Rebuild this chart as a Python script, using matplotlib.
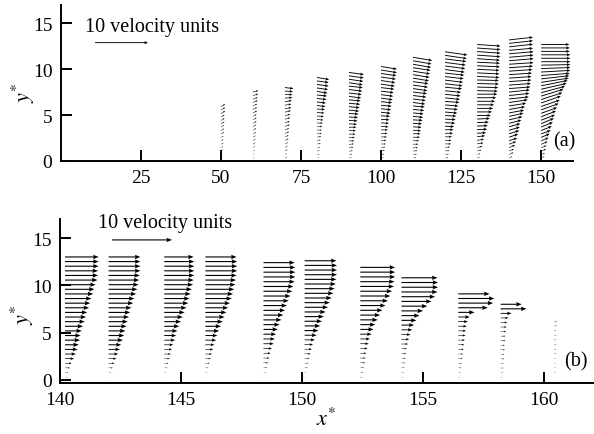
import numpy as np
import matplotlib
matplotlib.use("Agg")
import matplotlib.pyplot as plt

plt.rcParams['font.family'] = ['Liberation Serif', 'DejaVu Serif']
plt.rcParams['mathtext.fontset'] = 'stix'

# ---------------- panel (a) data ----------------
a_x = [50, 60, 70, 80, 90, 100, 110, 120, 130, 140, 150]
a_top = [5.9, 7.5, 8.0, 9.1, 9.65, 10.3, 11.3, 11.9, 12.7, 13.2, 12.7]
a_u = [
    [0.3,0.3,0.4,0.4,0.5,0.5,0.5,0.6,0.6,0.6,0.7,0.7,0.7,0.8,0.8,0.8],
    [0.3,0.3,0.4,0.4,0.5,0.5,0.5,0.6,0.6,0.6,0.7,0.7,0.7,0.8,0.8,0.8,0.9,0.9,1.0,1.0],
    [0.4,0.4,0.5,0.5,0.6,0.7,0.7,0.8,0.8,0.9,0.9,1.0,1.0,1.1,1.2,1.2,1.3,1.4,1.4,1.5,1.6],
    [0.4,0.5,0.5,0.6,0.7,0.7,0.8,0.9,0.9,1.0,1.1,1.2,1.3,1.4,1.5,1.6,1.7,1.8,1.9,2.0,2.1,2.2,2.2,2.3],
    [0.5,0.6,0.7,0.8,0.9,1.0,1.1,1.2,1.3,1.4,1.5,1.6,1.7,1.8,1.9,2.0,2.1,2.2,2.3,2.4,2.5,2.6,2.6,2.7,2.8,2.8],
    [0.5,0.6,0.7,0.8,0.9,1.0,1.1,1.2,1.3,1.4,1.5,1.6,1.7,1.8,1.9,2.0,2.1,2.2,2.3,2.4,2.5,2.6,2.7,2.8,2.9,3.0,3.0],
    [0.6,0.7,0.8,0.9,1.0,1.1,1.3,1.4,1.5,1.6,1.7,1.8,1.9,2.0,2.1,2.2,2.3,2.4,2.5,2.6,2.7,2.8,2.9,3.0,3.1,3.2,3.3,3.4,3.5,3.6],
    [0.6,0.7,0.8,0.9,1.1,1.2,1.3,1.5,1.6,1.7,1.9,2.0,2.1,2.3,2.4,2.5,2.7,2.8,2.9,3.0,3.2,3.3,3.4,3.5,3.6,3.7,3.8,3.9,4.0,4.1,4.2],
    [0.5,0.6,0.8,1.0,1.2,1.3,1.5,1.7,1.9,2.0,2.2,2.4,2.6,2.8,3.0,3.2,3.4,3.6,3.8,3.9,4.0,4.1,4.1,4.2,4.2,4.2,4.3,4.3,4.3,4.4,4.4,4.4,4.4],
    [0.6,0.8,0.9,1.1,1.3,1.5,1.7,1.9,2.0,2.1,2.3,2.5,2.7,2.8,3.0,3.2,3.5,3.7,3.8,3.9,4.0,4.1,4.2,4.2,4.3,4.4,4.5,4.6,4.6,4.6,4.6,4.5,4.5,4.5,4.5],
    [0.6,0.7,0.9,1.0,1.2,1.4,1.6,1.8,2.0,2.2,2.4,2.6,2.8,3.0,3.3,3.5,3.7,4.0,4.2,4.5,4.8,5.0,5.2,5.3,5.4,5.5,5.5,5.5,5.5,5.5,5.5,5.4,5.4,5.3],
]
a_v = [
    [0.2,0.2,0.3,0.3,0.3,0.3,0.3,0.4,0.4,0.4,0.4,0.4,0.4,0.5,0.5,0.5],
    [0.2,0.2,0.2,0.3,0.3,0.3,0.3,0.3,0.4,0.4,0.4,0.4,0.4,0.4,0.4,0.4,0.4,0.3,0.3,0.3],
    [0.2,0.2,0.3,0.3,0.3,0.3,0.3,0.3,0.3,0.3,0.3,0.3,0.3,0.3,0.2,0.2,0.2,0.1,0.0,-0.1,-0.2],
    [0.1,0.1,0.1,0.1,0.1,0.1,0.1,0.0,0.0,0.0,0.0,-0.1,-0.1,-0.1,-0.1,-0.2,-0.2,-0.2,-0.2,-0.3,-0.3,-0.3,-0.3,-0.4],
    [0.1,0.1,0.1,0.1,0.1,0.0,0.0,0.0,0.0,0.0,-0.1,-0.1,-0.1,-0.1,-0.2,-0.2,-0.2,-0.2,-0.3,-0.3,-0.3,-0.3,-0.4,-0.4,-0.4,-0.4],
    [0.1,0.1,0.1,0.1,0.0,0.0,0.0,0.0,0.0,-0.1,-0.1,-0.1,-0.1,-0.2,-0.2,-0.2,-0.2,-0.3,-0.3,-0.3,-0.3,-0.4,-0.4,-0.4,-0.4,-0.5,-0.5],
    [0.1,0.1,0.1,0.0,0.0,0.0,0.0,0.0,-0.1,-0.1,-0.1,-0.1,-0.2,-0.2,-0.2,-0.2,-0.3,-0.3,-0.3,-0.3,-0.4,-0.4,-0.4,-0.5,-0.5,-0.5,-0.5,-0.6,-0.6,-0.6],
    [0.1,0.1,0.1,0.1,0.0,0.0,0.0,0.0,0.0,-0.1,-0.1,-0.1,-0.1,-0.2,-0.2,-0.2,-0.2,-0.3,-0.3,-0.3,-0.3,-0.4,-0.4,-0.4,-0.4,-0.5,-0.5,-0.5,-0.5,-0.6,-0.6],
    [0.2,0.2,0.2,0.2,0.2,0.2,0.2,0.1,0.1,0.1,0.1,0.1,0.0,0.0,0.0,0.0,0.0,0.0,0.0,-0.1,-0.1,-0.1,-0.1,-0.2,-0.2,-0.2,-0.2,-0.2,-0.3,-0.3,-0.3,-0.3,-0.3],
    [0.3,0.4,0.4,0.5,0.5,0.5,0.6,0.6,0.6,0.6,0.6,0.6,0.6,0.5,0.5,0.5,0.5,0.4,0.4,0.4,0.3,0.3,0.3,0.3,0.3,0.3,0.3,0.3,0.4,0.4,0.4,0.4,0.5,0.5,0.5],
    [0.3,0.3,0.4,0.4,0.5,0.6,0.7,0.7,0.8,0.9,1.0,1.0,1.1,1.1,1.2,1.2,1.3,1.3,1.3,1.2,1.1,1.0,0.8,0.6,0.4,0.3,0.2,0.1,0.0,0.0,0.0,0.0,0.0,0.0],
]

# ---------------- panel (b) data ----------------
b_x = [140.2, 142.0, 144.3, 146.0, 148.4, 150.1, 152.4, 154.1, 156.45, 158.2, 160.4]
b_top = [13.0, 13.0, 13.0, 13.0, 12.4, 12.6, 11.9, 10.8, 9.1, 8.0, 6.2]
b_u = [
    [0.3,0.5,0.8,1.1,1.5,1.8,2.1,2.3,2.5,2.6,2.8,3.0,3.3,3.5,3.7,4.0,4.2,4.4,4.7,4.9,5.1,5.4,5.5,5.5,5.6,5.6,5.6],
    [0.2,0.4,0.7,1.0,1.3,1.6,1.9,2.1,2.4,2.6,2.8,3.0,3.2,3.4,3.6,3.8,4.1,4.3,4.6,4.8,5.0,5.1,5.2,5.3,5.3,5.3,5.3],
    [0.2,0.3,0.5,0.7,0.9,1.1,1.3,1.5,1.8,2.0,2.2,2.5,2.8,3.1,3.4,3.7,4.0,4.2,4.4,4.6,4.8,4.9,5.0,5.0,5.0,5.0,4.9],
    [0.2,0.3,0.5,0.7,0.9,1.1,1.3,1.5,1.8,2.0,2.3,2.6,2.9,3.2,3.5,3.8,4.1,4.4,4.6,4.8,5.0,5.1,5.2,5.3,5.3,5.3,5.2],
    [0.2,0.4,0.6,0.8,1.0,1.2,1.4,1.7,1.9,2.1,2.4,2.7,3.0,3.3,3.6,3.9,4.2,4.5,4.8,5.0,5.2,5.3,5.3,5.3,5.2],
    [0.2,0.3,0.5,0.6,0.8,1.0,1.2,1.4,1.7,2.0,2.3,2.6,2.9,3.2,3.5,3.9,4.2,4.5,4.8,5.0,5.2,5.3,5.4,5.4,5.4,5.3],
    [0.4,0.5,0.6,0.8,0.9,1.0,1.2,1.4,1.6,1.9,2.2,2.5,2.9,3.3,3.7,4.2,4.6,5.0,5.3,5.6,5.7,5.8,5.8,5.8],
    [0.3,0.4,0.5,0.6,0.7,0.8,0.9,1.1,1.3,1.5,1.8,2.1,2.5,3.0,3.6,4.3,5.0,5.6,6.0,6.1,6.1,6.0],
    [0.3,0.4,0.5,0.6,0.7,0.8,0.9,1.0,1.1,1.2,1.3,1.4,1.6,1.9,2.7,4.9,5.8,6.0,5.2],
    [0.3,0.4,0.5,0.5,0.6,0.6,0.7,0.7,0.8,0.8,0.9,1.0,1.1,1.3,1.8,4.3,3.5],
    [0.2,0.3,0.3,0.3,0.3,0.4,0.4,0.4,0.4,0.4,0.4,0.5,0.5],
]

a_xticks = [25, 50, 75, 100, 125, 150]
b_xticks = [140, 145, 150, 155, 160]
yticks = [0, 5, 10, 15]
key_value = 10
key_label = "10 velocity units"

fig = plt.figure(figsize=(5.94, 4.35), dpi=100)
ax_a = fig.add_axes([0.1022, 0.628, 0.8628, 0.358])
ax_b = fig.add_axes([0.1013, 0.1177, 0.8964, 0.3763])

def style(ax):
    for s in ['top', 'right']:
        ax.spines[s].set_visible(False)
    for s in ['left', 'bottom']:
        ax.spines[s].set_linewidth(1.4)
    ax.tick_params(direction='in', length=8, width=1.4, labelsize=14, pad=6)
    ax.set_yticks(yticks)

# panel (a)
qk = dict(angles='uv', scale_units='x', units='dots', pivot='tail', color='black')
head_a = dict(width=0.9, headwidth=3.5, headlength=4, headaxislength=3.5, minshaft=2.5)
head_b = dict(width=1.1, headwidth=4, headlength=5, headaxislength=4.5, minshaft=2.5)
scale_a = 0.604
for x0, top, u, v in zip(a_x, a_top, a_u, a_v):
    y = np.linspace(0.3, top, len(u))
    ax_a.quiver(np.full(len(u), x0), y, u, v, scale=scale_a, **head_a, **qk)
ax_a.quiver([10.7], [12.9], [key_value], [0], scale=scale_a, **head_a, **qk)
ax_a.text(7.6, 14.7, key_label, fontsize=14.5, ha='left', va='center')
ax_a.text(157.3, 2.2, "(a)", fontsize=14.5, ha='center', va='center')
ax_a.set_xlim(0, 160)
ax_a.set_ylim(0, 17)
ax_a.set_xticks(a_xticks)
style(ax_a)

# panel (b)
scale_b = 4.03
for x0, top, u in zip(b_x, b_top, b_u):
    y = np.linspace(0.3, top, len(u))
    ax_b.quiver(np.full(len(u), x0), y, u, np.zeros(len(u)), scale=scale_b, **head_b, **qk)
ax_b.quiver([142.14], [14.8], [key_value], [0], scale=scale_b, **head_b, **qk)
ax_b.text(141.56, 16.6, key_label, fontsize=14.5, ha='left', va='center')
ax_b.text(161.3, 2.06, "(b)", fontsize=14.5, ha='center', va='center')
ax_b.set_xlim(140, 162)
ax_b.set_ylim(-0.3, 17)
ax_b.set_xticks(b_xticks)
style(ax_b)

fig.text(23 / 594, 1 - 93 / 435, r'$y^{*}$', rotation=90, fontsize=16, ha='center', va='center')
fig.text(22 / 594, 1 - 315 / 435, r'$y^{*}$', rotation=90, fontsize=16, ha='center', va='center')
fig.text(326 / 594, 1 - 420 / 435, r'$x^{*}$', fontsize=16, ha='center', va='center')

fig.savefig("out.png", dpi=100)
